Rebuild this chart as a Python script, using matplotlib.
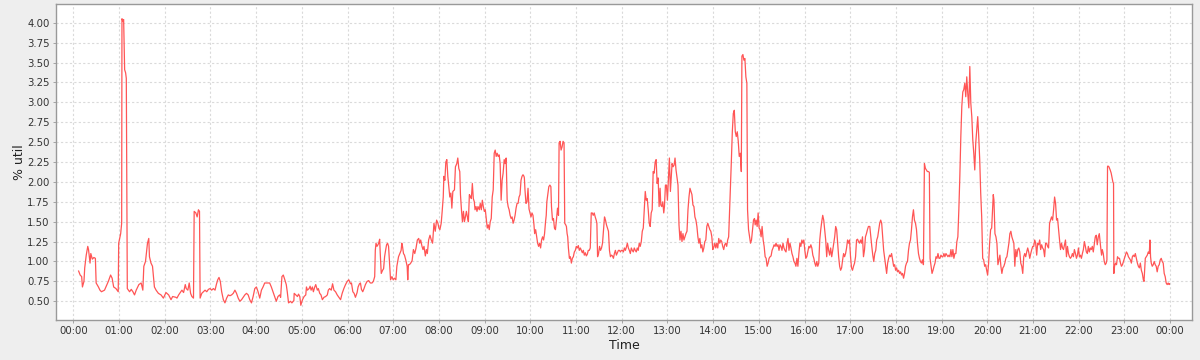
import matplotlib
matplotlib.use("Agg")
import matplotlib.pyplot as plt
import numpy as np
from matplotlib.ticker import FormatStrFormatter

# sample times (minutes after midnight) and % util values
times = [
    7, 9, 11, 12, 14, 15, 17, 19, 20, 22, 23, 25, 27, 29, 30, 33, 35, 37, 41, 46,
    49, 51, 53, 56, 59, 59.6, 62.2, 63.5, 63.9, 65.0, 66.1, 67.4, 68.7, 69.6, 70.9,
    73.9, 76.1, 78.3, 80.4, 82.6, 86.1, 89.1, 91.3, 92.6, 94.8, 97.4, 99.1, 100,
    102, 104, 106.5, 108.7, 111.7, 115.2, 118.3, 121.7, 125.2, 128.3, 130.4, 134.8,
    136.1, 138.3, 140.4, 142.6, 144.8, 147, 148.3, 150.4, 152.2, 154, 155.7, 157.8,
    158.7, 160.9, 162.6, 164.3, 165.7, 166.5, 168.7, 170.9, 173, 175.2, 177.4, 179.6,
    181.7, 183.9, 186.1, 187.8, 189.6, 191.3, 193, 194.8, 197, 199.1, 201.3, 203.5,
    205.7, 207.8, 210, 212.2, 214.3, 216.5, 218.7, 220.9, 223, 225.2, 227.4, 229.6,
    231.7, 233.9, 236.1, 238.3, 240.4, 242.6, 244.8, 247, 249.1, 251.3, 253.5, 255.7,
    257.8, 260, 262.2, 264.3, 266.5, 268.7, 270.9, 272.2, 273.9, 275.7, 277.4, 279.6,
    280.9, 282.6, 285.2, 287, 289.6,
    290, 292.2, 294.3, 295.7, 297.4, 298.7, 300.9, 303, 305.2, 306.1, 307.4, 309.6,
    310.9, 312.2, 313.9, 315.2, 317, 318.3, 320.4, 321.7, 323.5, 325.2, 327, 329.1,
    331.3, 333.5, 334.8, 336.5, 338.7, 340.4, 342.2, 344.3, 346.5, 348.7, 350.9, 353,
    355.2, 357.4, 359.6, 361.7, 363.9, 365.2, 367, 368.7, 370.4, 372.6, 373.9, 375.7,
    377, 378.3, 380, 381.7, 383.5, 385.7, 387.8, 390, 392.2, 393.9, 395.7, 396.5,
    397.4, 398.7, 400, 400.9, 402.2, 403, 404.3, 406.1, 407.4, 408.7, 410, 411.3,
    412.6, 413.9, 415.2, 416.5, 418.3, 420, 421.7, 423.5, 424.8, 427, 428.7, 430.4,
    431.3, 432.2, 433.5, 434.8, 436.5, 438.3, 439.1, 440,
    441.3, 443, 444.8, 446.5, 448.3, 450, 451.7, 453.5, 454.8, 456.1, 457.8, 459.1,
    460.4, 462.2, 463.5, 464.8, 466.5, 468.3, 470, 471.7, 473.5, 475.2, 477, 478.7,
    480, 481.3, 483, 484.3, 485.7, 486.5, 487.8, 489.1, 490.4, 491.7, 493, 494.3,
    495.7, 497, 498.3, 500.4, 501.7, 503.5, 504.8, 506.1, 507.4, 508.3, 509.6, 510.9,
    512.2, 513.5, 514.8, 516.1, 517.4, 518.7, 520, 521.3, 522.6, 523.9, 525.2, 526.5,
    527.4, 528.7, 530, 531.3, 533, 534.3, 535.7, 537, 538.3, 539.6, 540.9, 542.2,
    543.5, 544.8, 546.1, 547.4, 548.7, 550, 551.3, 552.6, 553.9, 555.2, 556.5, 557.8,
    559.1, 560.4, 561.7, 563, 564.3, 565.7, 567, 568.3, 569.6, 570.9, 572.2, 573.5,
    574.8, 576.1, 577.4, 578.7, 580, 581.3, 582.6, 583.9, 585.2, 586.5, 587.8, 589.1,
    590.4, 591.7,
    592.2, 593, 594.3, 595.7, 597, 598.3, 599.6, 600.9, 602.2, 603.5, 604.8, 605.7,
    607, 608.3, 609.6, 610.9, 612.2, 613.5, 614.8, 616.1, 617.4, 618.7, 620, 620.9,
    621.7, 623, 624.3, 625.7, 627, 627.8, 629.1, 630.4, 631.7, 633, 634.3, 635.7,
    637, 637.8, 639.1, 640.4, 641.7, 643, 644.3, 645.2, 646.5, 647.4, 648.3, 649.1,
    650, 651.3, 652.6, 653.9, 655.2, 656.5, 657.8, 659.1, 660.4, 661.7, 663, 664.3,
    665.7, 667, 668.3, 669.6, 670.9, 672.2, 673.5, 674.8, 676.1, 677.4, 678.7, 680,
    681.3, 682.6, 683.9, 685.2, 686.5, 687.4, 688.3, 689.6, 690.9, 692.2, 693.5, 694.8,
    696.1, 697.4, 698.7, 700, 701.3, 702.6, 703.9, 705.2, 706.5, 707.8, 709.1, 710.4,
    711.7, 713, 714.3, 715.7, 717, 718.3, 719.6, 720.9, 722.2, 723.5, 724.8, 726.1,
    727.4, 728.7, 730, 731.3, 732.6, 733.9, 735.2, 736.5, 737.8, 739.1, 740.4, 741.7,
    743, 744.3, 745.7, 747, 748.3, 749.6, 750.9, 752.2, 753.5, 754.8, 756.1, 757.4,
    758.7, 760, 761.3, 762.6, 763.9, 765.2, 766.5, 767.8, 769.1, 770.4, 771.3, 772.6,
    773.9, 775.2, 776.1, 777.4, 778.7, 780, 781.3, 782.6, 783.9, 784.8, 786.1, 787.4,
    788.7, 790, 791.3, 792.6, 793.9, 795.2, 796.5, 797.8, 799.1, 800.4, 801.7, 803,
    804.3, 805.7, 807, 808.3, 809.6, 810.9, 812.2, 813.5, 814.8, 816.1, 817.4, 818.7,
    820, 821.3, 822.6, 823.9, 825.2, 826.5, 827.8, 829.1, 830.4, 831.7, 833, 834.3,
    835.7, 837, 838.3, 839.6, 840.9, 842.2, 843.5, 844.8, 846.1, 847.4, 848.7, 850,
    851.3, 852.6, 853.9, 855.2, 856.5, 857.8, 859.1, 860.4, 861.7, 863, 863.9, 865.2,
    866.5, 867.8, 869.1, 870.4, 871.7, 873, 874.3, 875.7, 877, 877.8, 879.1, 880.4,
    881.7, 883, 884.3, 885.2, 886.5, 887.8, 889.1, 890.4, 891.7, 893, 894.3,
    895.2, 896.5, 897.8, 899.1, 900.4, 901.7, 903, 904.3, 905.7, 907, 908.3, 909.6,
    910.9, 912.2, 913.5, 914.8, 916.1, 917.4, 918.7, 920, 921.3, 922.6, 923.9, 925.2,
    926.5, 927.8, 929.1, 930.4, 931.7, 933, 934.3, 935.7, 937, 938.3, 939.6, 940.9,
    942.2, 943.5, 944.8, 946.1, 947.4, 948.7, 950, 951.3, 952.6, 953.9, 955.2, 956.5,
    957.8, 959.1, 960.4, 961.7, 963, 964.3, 965.7, 967, 968.3, 969.6, 970.9, 972.2,
    973.5, 974.8, 976.1, 977.4, 978.7, 980, 981.3, 982.6, 983.9, 985.2, 986.5, 987.8,
    989.1, 990.4, 991.7, 993, 994.3, 995.7, 997, 998.3, 999.6, 1000.9, 1002.2, 1003.5,
    1004.8, 1006.1, 1007.4, 1008.7, 1010, 1011.3, 1012.6, 1013.9, 1015.2, 1016.5,
    1017.8, 1019.1, 1020.4, 1021.7, 1023, 1024.3, 1025.7, 1027, 1028.3, 1029.6,
    1030.9, 1032.2, 1033.5, 1034.8, 1036.1, 1037.4, 1038.7, 1040, 1041.3, 1042.6,
    1043.9,
    1045.7, 1047, 1048.3, 1049.6, 1050.9, 1052.2, 1053.5, 1054.8, 1056.1, 1057.4,
    1058.7, 1060, 1061.3, 1062.6, 1063.9, 1065.2, 1066.5, 1067.8, 1069.1, 1070.4,
    1071.7, 1073, 1074.3, 1075.7, 1077, 1078.3, 1079.6, 1080.9, 1082.2, 1083.5,
    1084.8, 1086.1, 1087.4, 1088.7, 1090, 1091.3, 1092.6, 1093.9, 1095.2, 1096.5,
    1097.8, 1099.1, 1100.4, 1101.7, 1103, 1104.3, 1105.7, 1107, 1108.3, 1109.6,
    1110.9, 1112.2, 1113.5, 1114.8, 1116.1, 1117.4, 1118.7, 1120, 1121.3, 1122.6,
    1123.9, 1124.8, 1126.1, 1127.4, 1128.7, 1130, 1131.3, 1132.6, 1133.9, 1135.2,
    1136.5, 1137.8, 1139.1, 1140.4, 1141.7, 1143, 1144.3, 1145.7, 1147, 1148.3,
    1149.6, 1150.9, 1152.2, 1153.5, 1154.8, 1156.1, 1157.4, 1158.7, 1160, 1161.3,
    1162.6, 1163.9, 1165.2, 1166.5, 1167.8, 1169.1, 1170.4, 1171.7, 1173, 1174.3,
    1175.7, 1177, 1178.3, 1179.6, 1180.9, 1182.2, 1183.5, 1184.8, 1186.1, 1187.4,
    1188.7, 1190, 1191.3, 1192.6, 1193.9, 1195.2,
    1196.5, 1197.8, 1199.1, 1200.4, 1201.7, 1203, 1204.3, 1205.7, 1207, 1207.8,
    1208.7, 1210, 1211.3, 1212.6, 1213.9, 1215.2, 1216.5, 1217.8, 1219.1, 1220.4,
    1221.7, 1223, 1224.3, 1225.7, 1227, 1228.3, 1229.6, 1230.9, 1232.2, 1233.5,
    1234.8, 1236.1, 1237.4, 1238.7, 1240, 1241.3, 1242.6, 1243.9, 1245.2, 1246.5,
    1247.8, 1249.1, 1250.4, 1251.7, 1253, 1254.3, 1255.7, 1257, 1258.3, 1259.6,
    1260.9, 1262.2, 1263.5, 1264.8, 1266.1, 1267.4, 1268.7, 1270, 1271.3, 1272.6,
    1273.9, 1275.2, 1276.5, 1277.8, 1279.1, 1280.4, 1281.7, 1283, 1284.3, 1285.7,
    1287, 1288.3, 1289.6, 1290.9, 1292.2, 1293.5, 1294.8, 1296.1, 1297.4, 1298.7,
    1300, 1301.3, 1302.6, 1303.9, 1305.2, 1306.5, 1307.8, 1309.1, 1310.4, 1311.7,
    1313, 1314.3, 1315.7, 1317, 1318.3, 1319.6, 1320.9, 1322.2, 1323.5, 1324.8,
    1326.1, 1327.4, 1328.7, 1330, 1331.3, 1332.6, 1333.9, 1335.2, 1336.5, 1337.8,
    1339.1, 1340.4, 1341.7, 1343, 1344.3, 1345.7, 1347,
    1347.8, 1349.1, 1350, 1350.9, 1352.2, 1353.5, 1354.8, 1356.1, 1357, 1357.8,
    1358.3, 1359.6, 1361.3, 1362.6, 1364.8, 1365.7, 1366.1, 1367, 1368.3, 1369.6,
    1370.9, 1372.2, 1373.5, 1374.8, 1376.1, 1377.4, 1378.7, 1380, 1381.3, 1382.6,
    1383.9, 1385.2, 1386.5, 1387.8, 1389.1, 1390.4, 1391.7, 1393, 1394.3, 1395.7,
    1397, 1398.3, 1399.6, 1400.9, 1402.2, 1403.5, 1404.8, 1405.7, 1406.5, 1407.4,
    1408.7, 1410, 1411.3, 1412.6, 1413.5, 1414.3, 1415.2, 1416.5, 1417.8, 1419.1,
    1420.4, 1421.7, 1423, 1424.3, 1425.7, 1427, 1428.3, 1429.6, 1430.9, 1432.2,
    1433.5, 1434.8, 1436.1, 1437.4, 1438.7, 1439,
]

util = [
    0.88, 0.83, 0.81, 0.68, 0.75, 0.92, 1.08, 1.19, 1.15, 0.98, 1.10, 1.03, 1.05, 1.04, 0.73, 0.68, 0.64, 0.62, 0.64, 0.75,
    0.83, 0.79, 0.68, 0.66, 0.62, 1.23, 1.35, 1.48, 4.05, 4.02, 4.04, 3.41, 3.37, 3.30, 0.66,
    0.62, 0.65, 0.62, 0.58, 0.64, 0.71, 0.73, 0.64, 0.94, 1.00, 1.23, 1.29, 1.06,
    0.98, 0.94, 0.68, 0.64, 0.60, 0.58, 0.54, 0.61, 0.58, 0.52, 0.56, 0.55,
    0.54, 0.58, 0.61, 0.64, 0.61, 0.71, 0.66, 0.64, 0.73, 0.60, 0.56, 0.54,
    1.63, 1.61, 1.56, 1.65, 1.63, 0.54, 0.60, 0.62, 0.64, 0.62, 0.65, 0.66,
    0.64, 0.66, 0.64, 0.71, 0.77, 0.80, 0.75, 0.62, 0.52, 0.48, 0.54, 0.58,
    0.57, 0.58, 0.60, 0.64, 0.60, 0.54, 0.50, 0.52, 0.55, 0.58, 0.60, 0.58,
    0.52, 0.48, 0.56, 0.66, 0.68, 0.62, 0.54, 0.64, 0.68, 0.73, 0.73, 0.73,
    0.73, 0.68, 0.62, 0.56, 0.50, 0.56, 0.58, 0.55, 0.81, 0.83, 0.78, 0.71,
    0.62, 0.48, 0.50, 0.48, 0.51,
    0.60, 0.58, 0.56, 0.59, 0.56, 0.45, 0.52, 0.56, 0.58, 0.68, 0.64, 0.66,
    0.69, 0.64, 0.68, 0.62, 0.68, 0.71, 0.64, 0.66, 0.60, 0.58, 0.52, 0.55,
    0.56, 0.58, 0.64, 0.66, 0.64, 0.72, 0.64, 0.62, 0.58, 0.55, 0.52, 0.60,
    0.66, 0.71, 0.75, 0.77, 0.72, 0.73, 0.62, 0.60, 0.55, 0.61, 0.68, 0.72,
    0.73, 0.65, 0.62, 0.66, 0.71, 0.75, 0.76, 0.73, 0.73, 0.75, 0.81, 1.14,
    1.23, 1.19, 1.21, 1.23, 1.28, 1.10, 0.85, 0.89, 0.91, 1.06, 1.14, 1.21,
    1.23, 1.19, 0.98, 0.77, 0.81, 0.77, 0.79, 0.77, 0.94, 1.06, 1.10, 1.14,
    1.23, 1.19, 1.10, 1.08, 1.02, 0.94, 0.77, 0.96,
    0.96, 0.98, 1.01, 1.15, 1.10, 1.17, 1.27, 1.29, 1.23, 1.27, 1.19, 1.15,
    1.19, 1.07, 1.15, 1.10, 1.27, 1.33, 1.27, 1.23, 1.48, 1.38, 1.52, 1.48,
    1.42, 1.40, 1.48, 1.63, 1.81, 2.07, 2.02, 2.25, 2.28, 2.07, 1.94, 1.81,
    1.86, 1.67, 1.88, 1.90, 2.19, 2.23, 2.30, 2.17, 2.13, 1.84, 1.65, 1.50,
    1.63, 1.50, 1.56, 1.63, 1.56, 1.50, 1.84, 1.82, 1.79, 1.98, 1.79, 1.75,
    1.65, 1.69, 1.63, 1.69, 1.65, 1.73, 1.65, 1.77, 1.69, 1.63, 1.65, 1.54,
    1.42, 1.46, 1.40, 1.50, 1.54, 1.81, 1.90, 2.36, 2.40, 2.32, 2.36, 2.32,
    2.34, 2.23, 1.77, 2.02, 2.11, 2.28, 2.23, 2.30, 1.77, 1.69, 1.65, 1.58,
    1.54, 1.56, 1.48, 1.52, 1.58, 1.67, 1.73, 1.73, 1.81, 1.84, 2.02, 2.07,
    2.09, 2.07,
    2.05, 1.90, 1.73, 1.75, 1.92, 1.66, 1.61, 1.56, 1.61, 1.58, 1.46, 1.35,
    1.40, 1.31, 1.23, 1.19, 1.23, 1.17, 1.27, 1.31, 1.27, 1.35, 1.50, 1.58,
    1.75, 1.84, 1.94, 1.96, 1.94, 1.69, 1.52, 1.54, 1.42, 1.40, 1.52, 1.67,
    1.58, 2.49, 2.51, 2.40, 2.44, 2.51, 2.49, 1.48, 1.46, 1.44, 1.35, 1.31,
    1.17, 1.04, 1.06, 0.98, 1.04, 1.06, 1.12, 1.14, 1.19, 1.17, 1.20, 1.14,
    1.17, 1.14, 1.11, 1.14, 1.08, 1.11, 1.07, 1.09, 1.14, 1.14, 1.17, 1.61,
    1.61, 1.58, 1.61, 1.56, 1.52, 1.48, 1.06, 1.10, 1.19, 1.14, 1.17, 1.23,
    1.40, 1.56, 1.52, 1.46, 1.42, 1.38, 1.14, 1.06, 1.08, 1.07, 1.04, 1.10,
    1.14, 1.08, 1.11, 1.14, 1.14, 1.12, 1.14, 1.14, 1.12, 1.17, 1.14, 1.18,
    1.23, 1.17, 1.14, 1.10, 1.17, 1.14, 1.12, 1.17, 1.14, 1.12, 1.17, 1.14,
    1.23, 1.19, 1.25, 1.38, 1.42, 1.65, 1.88, 1.77, 1.79, 1.65, 1.48, 1.44,
    1.61, 1.65, 2.13, 2.11, 2.25, 2.28, 1.98, 2.05, 1.69, 1.92, 1.71, 1.69,
    1.75, 1.61, 1.69, 1.96, 1.96, 1.77, 2.05, 2.30, 1.88, 2.02, 2.23, 2.19,
    2.21, 2.30, 2.15, 2.05, 1.96, 1.46, 1.27, 1.38, 1.25, 1.35, 1.27, 1.31,
    1.35, 1.38, 1.65, 1.81, 1.92, 1.88, 1.84, 1.71, 1.69, 1.56, 1.52, 1.44,
    1.31, 1.23, 1.29, 1.17, 1.21, 1.12, 1.17, 1.25, 1.27, 1.44, 1.48, 1.44,
    1.40, 1.38, 1.31, 1.15, 1.18, 1.23, 1.17, 1.23, 1.17, 1.29, 1.23, 1.27,
    1.25, 1.19, 1.15, 1.21, 1.23, 1.19, 1.27, 1.31, 1.65, 1.98, 2.25, 2.63,
    2.86, 2.90, 2.63, 2.57, 2.63, 2.51, 2.32, 2.36, 2.13, 3.58, 3.60, 3.53,
    3.55, 3.32, 3.24, 1.65, 1.40, 1.31, 1.23, 1.27, 1.40, 1.52, 1.54,
    1.46, 1.52, 1.44, 1.61, 1.42, 1.40, 1.31, 1.44, 1.27, 1.19, 1.06, 1.04,
    0.94, 0.98, 1.04, 1.06, 1.07, 1.14, 1.17, 1.21, 1.19, 1.23, 1.19, 1.21,
    1.14, 1.21, 1.19, 1.14, 1.23, 1.17, 1.14, 1.12, 1.23, 1.29, 1.14, 1.23,
    1.17, 1.10, 1.06, 1.00, 0.98, 0.94, 1.04, 0.94, 1.10, 1.23, 1.19, 1.27,
    1.23, 1.27, 1.14, 1.04, 1.06, 1.12, 1.19, 1.17, 1.21, 1.17, 1.08, 1.04,
    0.98, 0.94, 1.00, 0.94, 0.98, 1.27, 1.40, 1.50, 1.58, 1.52, 1.40, 1.27,
    1.06, 1.23, 1.14, 1.08, 1.17, 1.06, 1.14, 1.23, 1.31, 1.44, 1.40, 1.23,
    1.06, 0.94, 0.89, 0.92, 1.02, 1.10, 1.06, 1.10, 1.17, 1.27,
    1.23, 1.27, 1.06, 0.92, 0.89, 0.94, 0.98, 1.06, 1.27, 1.28,
    1.25, 1.23, 1.27, 1.23, 1.31, 1.06, 1.14, 1.31, 1.35, 1.40,
    1.44,
    1.44, 1.31, 1.19, 1.08, 1.00, 1.10, 1.14, 1.27, 1.31, 1.40,
    1.48, 1.52, 1.48, 1.31, 1.14, 1.04, 0.94, 0.85, 0.98, 1.04,
    1.08, 1.06, 1.10, 1.02, 0.94, 0.96, 0.89, 0.92, 0.87, 0.89,
    0.85, 0.87, 0.83, 0.85, 0.79, 0.85, 0.94, 0.98, 1.00, 1.14,
    1.23, 1.27, 1.40, 1.56, 1.65, 1.52, 1.48, 1.40, 1.23, 1.10,
    1.04, 1.00, 0.98, 1.02, 0.96, 2.23, 2.17, 2.15, 2.13, 2.13,
    2.12, 1.04, 0.94, 0.85, 0.89, 0.94, 0.98, 1.06, 1.04, 1.10,
    1.04, 1.04, 1.08, 1.06, 1.06, 1.10, 1.06, 1.10, 1.08, 1.06,
    1.08, 1.06, 1.15, 1.06, 1.15, 1.04, 1.10, 1.10, 1.25, 1.31,
    1.65, 2.07, 2.57, 2.95, 3.13, 3.16, 3.24, 3.07, 3.32, 3.11,
    2.93, 3.45, 2.99, 2.82, 2.53, 2.36, 2.15, 2.49, 2.65, 2.82,
    2.57, 2.28, 1.86, 1.56, 1.04, 1.02,
    0.94, 0.96, 0.89, 0.83, 0.98, 1.23, 1.40, 1.42, 1.69, 1.84,
    1.77, 1.35, 1.31, 1.23, 0.96, 1.02, 1.08, 0.94, 0.85, 0.92,
    0.94, 0.98, 1.04, 1.06, 1.15, 1.23, 1.35, 1.38, 1.31, 1.27,
    1.23, 0.94, 1.15, 1.06, 1.15, 1.17, 1.12, 0.98, 0.94, 0.85,
    1.06, 1.10, 1.06, 1.12, 1.17, 1.12, 1.04, 1.10, 1.15, 1.19,
    1.19, 1.27, 1.23, 1.08, 1.23, 1.21, 1.27, 1.15, 1.21, 1.17,
    1.15, 1.06, 1.23, 1.23, 1.19, 1.17, 1.48, 1.52, 1.56, 1.52,
    1.65, 1.81, 1.73, 1.52, 1.54, 1.40, 1.27, 1.15, 1.23, 1.17,
    1.15, 1.21, 1.27, 1.06, 1.19, 1.10, 1.06, 1.04, 1.06, 1.10,
    1.06, 1.15, 1.10, 1.04, 1.08, 1.17, 1.06, 1.08, 1.04, 1.10,
    1.15, 1.25, 1.19, 1.12, 1.10, 1.19, 1.12, 1.17, 1.15, 1.19,
    1.12, 1.21, 1.31, 1.33, 1.21, 1.31, 1.35,
    1.27, 1.15, 1.08, 1.15, 1.10, 1.00, 0.96, 0.98, 1.02, 2.19,
    2.20, 2.19, 2.15, 2.11, 2.00, 1.98, 0.85, 0.94, 0.98, 0.96,
    1.06, 1.04, 1.04, 0.98, 0.94, 0.96, 1.00, 1.04, 1.08, 1.12,
    1.10, 1.06, 1.04, 1.02, 0.98, 1.06, 1.08, 1.06, 1.10, 1.04,
    0.98, 0.94, 0.92, 0.98, 0.89, 0.85, 0.77, 0.75, 0.89, 1.04,
    1.06, 1.08, 1.12, 1.10, 1.27, 1.06, 0.98, 0.94, 0.96, 1.00,
    0.96, 0.94, 0.87, 0.94, 0.96, 1.02, 1.04, 1.00, 0.98, 0.85,
    0.81, 0.73, 0.71, 0.73, 0.71, 0.72,
]

tick_labels = ["00:00", "01:00", "02:00", "03:00", "04:00", "05:00", "06:00",
               "07:00", "08:00", "09:00", "10:00", "11:00", "12:00", "13:00",
               "14:00", "15:00", "16:00", "17:00", "18:00", "19:00", "20:00",
               "21:00", "22:00", "23:00", "00:00"]

fig = plt.figure(figsize=(12, 3.6), dpi=100, facecolor="#eeeeee")
ax = fig.add_axes([56 / 1200, 40 / 360, 1136 / 1200, 316 / 360])
ax.set_facecolor("white")

ax.plot(times, util, color="#ff5555", lw=0.9, zorder=3)

ax.set_xlim(-22.7, 1468.7)
ax.set_ylim(0.265, 4.235)
ax.set_xticks(np.arange(0, 1441, 60))
ax.set_xticklabels(tick_labels)
ax.set_yticks(np.arange(0.5, 4.01, 0.25))
ax.yaxis.set_major_formatter(FormatStrFormatter("%.2f"))

ax.grid(True, color="#dadada", linestyle=(0, (2, 2)), lw=0.8, zorder=0)
ax.set_axisbelow(True)
for s in ax.spines.values():
    s.set_color("#999999")
    s.set_linewidth(1.0)
ax.tick_params(direction="out", length=2.5, width=0.6, color="#999999",
               labelsize=7.3, labelcolor="#333333", pad=2)
ax.set_xlabel("Time", fontsize=9, color="#222222", labelpad=2)
ax.set_ylabel("% util", fontsize=9, color="#222222", labelpad=1)

fig.savefig("out.png", dpi=100, facecolor=fig.get_facecolor())
